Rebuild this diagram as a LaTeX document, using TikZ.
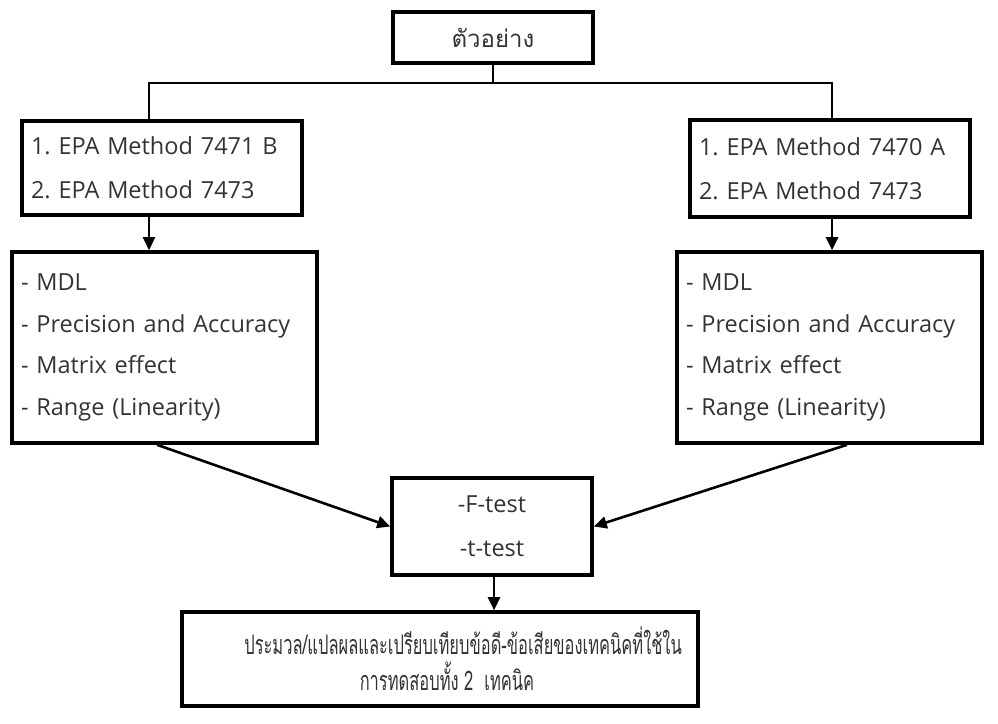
\documentclass[tikz,border=0pt]{standalone}
\usepackage{fontspec}
\setmainfont{Open Sans}
\newfontfamily\thaifont[Script=Thai]{Loma}
\usetikzlibrary{arrows.meta}
\frenchspacing

\tikzset{
    box/.style={draw,line width=3.6pt,rectangle,inner xsep=9pt,inner ysep=0pt,text=black!80},
    link/.style={line width=2.8pt},
    arrow/.style={line width=2.6pt,-{Triangle[length=13pt,width=12pt]}}
}

\begin{document}
\begin{tikzpicture}[x=1pt,y=-1pt]
    \useasboundingbox (0,0) rectangle (998,723);

    \def\fs{\fontsize{23.5}{44}\selectfont}
    \def\fl{\fontsize{23.5}{41.5}\selectfont}
    \def\squeeze#1{\scalebox{0.61}[1]{#1}}

    % sample
    \node[box,minimum width=200,minimum height=51,font=\thaifont\fontsize{24}{26}\selectfont] (sample) at (493,37.5) {ตัวอย่าง};

    % digestion methods
    \node[box,minimum width=280,minimum height=94,text width=262,align=left,font=\fs] (methodL) at (162,168)
        {1. EPA Method 7471 B\\2. EPA Method 7473};
    \node[box,minimum width=280,minimum height=97,text width=262,align=left,font=\fs] (methodR) at (830,168.5)
        {1. EPA Method 7470 A\\2. EPA Method 7473};

    % validation
    \node[box,minimum width=305,minimum height=191,text width=287,align=left,font=\fl] (validL) at (164.5,347.5)
        {- MDL\\- Precision and Accuracy\\- Matrix effect\\- Range (Linearity)\\[-6pt]};
    \node[box,minimum width=305,minimum height=191,text width=287,align=left,font=\fl] (validR) at (829.5,347.5)
        {- MDL\\- Precision and Accuracy\\- Matrix effect\\- Range (Linearity)\\[-6pt]};

    % statistics
    \node[box,minimum width=200,minimum height=97,align=center,font=\fs] (stat) at (492,526.5)
        {-F-test\\-t-test};

    % conclusion
    \node[box,minimum width=516,minimum height=94,align=center,font=\thaifont\fontsize{27}{36}\selectfont] (sum) at (440,659)
        {\hspace*{46pt}\squeeze{ประมวล/แปลผลและเปรียบเทียบข้อดี-ข้อเสียของเทคนิคที่ใช้ใน}\\
         \hspace*{14pt}\squeeze{การทดสอบทั้ง 2~~เทคนิค}};

    \coordinate (busL) at (149,83);
    \coordinate (busR) at (832,83);

    \draw[link] (sample.south) -- (sample.south |- busL);
    \draw[link] (busL |- methodL.north) -- (busL) -- (busR) -- (busR |- methodR.north);

    \draw[arrow] (busL |- methodL.south) -- (busL |- validL.north);
    \draw[arrow] (busR |- methodR.south) -- (busR |- validR.north);

    \draw[arrow] ([xshift=-7.5]validL.south) -- (stat.west);
    \draw[arrow] ([xshift=17.5]validR.south) -- (stat.east);

    \draw[arrow] ([xshift=2]stat.south) -- ([xshift=2]stat.south |- sum.north);

\end{tikzpicture}
\end{document}
